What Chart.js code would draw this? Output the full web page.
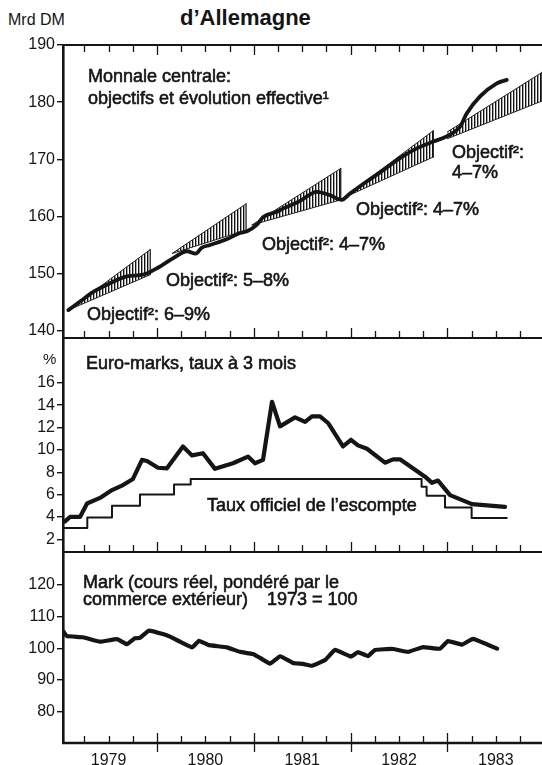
<!DOCTYPE html>
<html><head><meta charset="utf-8">
<script src="https://cdn.jsdelivr.net/npm/chart.js@4.4.0/dist/chart.umd.min.js"></script>
<style>
html,body{margin:0;padding:0;background:#fff;width:542px;height:765px;overflow:hidden;}
#wrap{position:relative;width:542px;height:765px;}
canvas{position:absolute;left:0;}
.t{position:absolute;font-family:"Liberation Sans",Arial,sans-serif;color:#151515;white-space:nowrap;line-height:1;}
.a{font-size:18px;-webkit-text-stroke:0.6px #151515;}
</style></head>
<body><div id="wrap">
<canvas id="c1" width="542" height="320" style="top:30px"></canvas>
<canvas id="c2" width="542" height="238" style="top:326px"></canvas>
<canvas id="c3" width="542" height="225" style="top:540px"></canvas>
<div class="t" style="left:180px;top:7px;font-size:22px;font-weight:bold">d’Allemagne</div>
<div class="t" style="left:8px;top:12px;font-size:16px">Mrd DM</div>
<div class="t a" style="left:88px;top:67px">Monnale centrale:</div>
<div class="t a" style="left:88px;top:89px">objectifs et évolution effective¹</div>
<div class="t a" style="left:87px;top:305px">Objectif²: 6–9%</div>
<div class="t a" style="left:166px;top:271px">Objectif²: 5–8%</div>
<div class="t a" style="left:262px;top:235px">Objectif²: 4–7%</div>
<div class="t a" style="left:356px;top:200px">Objectif²: 4–7%</div>
<div class="t a" style="left:452px;top:143px">Objectif²:</div>
<div class="t a" style="left:452px;top:163px">4–7%</div>
<div class="t" style="left:43px;top:351px;font-size:15px">%</div>
<div class="t a" style="left:86px;top:354px">Euro-marks, taux à 3 mois</div>
<div class="t a" style="left:207px;top:496px">Taux officiel de l’escompte</div>
<div class="t a" style="left:83px;top:573px">Mark (cours réel, pondéré par le</div>
<div class="t a" style="left:83px;top:590px">commerce extérieur)</div>
<div class="t a" style="left:267px;top:590px">1973 = 100</div>
</div>
<script>
// ---------- DATA ----------
const years = ['1979', '1980', '1981', '1982', '1983'];
const xMin = 1979.029, xMax = 1983.977;

// Panel 1: central bank money (Mrd DM)
const moneyT = [1979.084, 1979.205, 1979.342, 1979.514, 1979.687, 1979.858, 1979.997, 1980.168, 1980.310, 1980.400, 1980.460, 1980.548, 1980.720, 1980.857, 1980.930, 1981.030, 1981.098, 1981.237, 1981.305, 1981.477, 1981.650, 1981.787, 1981.908, 1981.994, 1982.166, 1982.338, 1982.510, 1982.683, 1982.854, 1982.993, 1983.130, 1983.199, 1983.337, 1983.510, 1983.613];
const moneyV = [143.6, 145.1, 146.8, 148.3, 149.5, 149.8, 150.9, 152.7, 153.9, 153.5, 154.5, 155.0, 156.0, 157.1, 157.4, 158.5, 159.9, 160.8, 161.4, 162.7, 164.3, 163.7, 162.9, 164.0, 166.1, 168.1, 170.2, 171.9, 173.1, 174.0, 175.7, 178.0, 181.0, 183.3, 183.9];
const yTicks1 = [140, 150, 160, 170, 180, 190];

// Target corridors
const corrLabels = ['6–9%', '5–8%', '4–7%', '4–7%', '4–7%'];
const corrT0 = [1979.084, 1980.155, 1980.980, 1981.920, 1983.000];
const corrT1 = [1979.930, 1980.920, 1981.898, 1982.854, 1983.977];
const corrLow0 = [143.6, 153.5, 158.5, 163.2, 173.6];
const corrHigh0 = [143.6, 153.5, 158.5, 163.2, 174.8];
const corrLow1 = [149.8, 157.6, 162.9, 170.4, 180.2];
const corrHigh1 = [154.2, 162.2, 168.4, 175.0, 185.2];

// Panel 2: Euro-marks 3 months rate and discount rate (%)
const euroT = [1979.050, 1979.101, 1979.205, 1979.277, 1979.411, 1979.535, 1979.649, 1979.752, 1979.845, 1979.897, 1980.010, 1980.103, 1980.268, 1980.362, 1980.475, 1980.599, 1980.785, 1980.940, 1981.012, 1981.095, 1981.188, 1981.271, 1981.426, 1981.529, 1981.601, 1981.684, 1981.767, 1981.921, 1982.004, 1982.076, 1982.169, 1982.355, 1982.438, 1982.510, 1982.769, 1982.841, 1982.903, 1983.027, 1983.254, 1983.595];
const euroV = [3.6, 4.0, 4.0, 5.2, 5.7, 6.4, 6.85, 7.4, 9.1, 9.0, 8.4, 8.35, 10.3, 9.5, 9.7, 8.3, 8.8, 9.4, 8.8, 9.1, 14.3, 12.1, 12.9, 12.5, 13.0, 13.0, 12.4, 10.3, 10.9, 10.4, 10.1, 8.85, 9.15, 9.15, 7.6, 7.05, 7.25, 5.95, 5.15, 4.9];
const discT = [1979.029, 1979.280, 1979.535, 1979.824, 1980.176, 1980.348, 1982.733, 1982.785, 1982.975, 1983.250, 1983.613];
const discV = [3.0, 3.95, 5.0, 6.0, 6.9, 7.4, 6.7, 5.9, 4.85, 3.9, 3.9];
const yTicks2 = [2, 4, 6, 8, 10, 12, 14, 16];

// Panel 3: Mark real effective rate (1973 = 100)
const markT = [1979.032, 1979.067, 1979.236, 1979.411, 1979.587, 1979.690, 1979.773, 1979.824, 1979.917, 1980.062, 1980.134, 1980.362, 1980.434, 1980.527, 1980.723, 1980.857, 1980.992, 1981.064, 1981.167, 1981.271, 1981.405, 1981.508, 1981.601, 1981.736, 1981.839, 1982.004, 1982.076, 1982.180, 1982.252, 1982.438, 1982.593, 1982.748, 1982.924, 1983.006, 1983.151, 1983.264, 1983.513];
const markV = [105.3, 103.9, 103.5, 102.1, 102.9, 101.3, 103.2, 103.3, 105.6, 104.5, 103.7, 100.3, 102.4, 101.1, 100.3, 98.9, 98.2, 97.0, 95.2, 97.5, 95.4, 95.1, 94.5, 96.3, 99.5, 97.4, 98.8, 97.6, 99.5, 99.8, 98.9, 100.4, 99.9, 102.3, 101.2, 103.0, 99.9];
const yTicks3 = [80, 90, 100, 110, 120];

// ---------- CHARTS ----------
const INK = '#151515';
Chart.defaults.font.family = '"Liberation Sans", Arial, sans-serif';
Chart.defaults.font.size = 16;
Chart.defaults.color = INK;

const pts = (T, V) => T.map((t, i) => ({x: t, y: V[i]}));

const deco = {
  id: 'deco',
  afterDraw(chart, args, o) {
    const {ctx, chartArea: a} = chart;
    const x = chart.scales.x;
    const marks = [];
    years.forEach(y => [0, 0.25, 0.5, 0.75].forEach(q => marks.push({v: +y + q, big: q === 0})));
    marks.push({v: +years[years.length - 1] + 1, big: true});
    ctx.save();
    ctx.strokeStyle = INK;
    function hline(yp, w) {
      ctx.lineWidth = w;
      ctx.beginPath(); ctx.moveTo(a.left - 1, yp); ctx.lineTo(a.right, yp); ctx.stroke();
    }
    function row(yp, dir, down) {
      ctx.lineWidth = 1.3;
      marks.forEach(m => {
        const px = Math.round(x.getPixelForValue(m.v)) + 0.5;
        if (px <= a.left + 2 || px > a.right) return;
        const L = m.big ? 10 : 7;
        ctx.beginPath();
        ctx.moveTo(px, yp + (m.big && down ? down : 0));
        ctx.lineTo(px, yp + dir * L);
        ctx.stroke();
      });
    }
    if (o.top) { hline(a.top, 2); row(a.top, 1, 0); }
    hline(a.bottom, o.bw || 2);
    row(a.bottom, -1, o.down || 0);
    ctx.restore();
  }
};

function yAxis(min, max, ticks) {
  return {
    type: 'linear', position: 'left', min: min, max: max,
    afterFit: s => { s.width = 63; },
    afterBuildTicks: s => { s.ticks = ticks.map(v => ({value: v})); },
    ticks: {padding: 2, color: INK, font: {size: 16}},
    grid: {drawOnChartArea: false, drawTicks: true, tickLength: 6, color: INK, lineWidth: 1.4},
    border: {display: true, color: INK, width: 2.6}
  };
}
function xAxis(show) {
  return {
    type: 'linear', min: xMin, max: xMax, display: show,
    afterFit: s => { s.height = show ? 22 : 0; },
    afterBuildTicks: s => { s.ticks = years.map(y => ({value: +y + 0.5})); },
    ticks: {padding: 8, color: INK, font: {size: 16}, maxRotation: 0, callback: v => String(Math.floor(v))},
    grid: {display: false, drawTicks: false},
    border: {display: false}
  };
}
function baseOpts(pad, yax, showX, decoOpts) {
  return {
    responsive: false, animation: false, events: [],
    layout: {padding: pad},
    plugins: {legend: {display: false}, tooltip: {enabled: false}, deco: decoOpts},
    scales: {x: xAxis(showX), y: yax},
    elements: {point: {radius: 0}, line: {borderJoinStyle: 'round', borderCapStyle: 'round'}}
  };
}

// hatch pattern
const ctx1 = document.getElementById('c1').getContext('2d');
const pc = document.createElement('canvas');
pc.width = 3; pc.height = 3;
const pg = pc.getContext('2d');
pg.fillStyle = '#111'; pg.fillRect(0, 0, 1, 3);
pg.fillStyle = 'rgba(0,0,0,0.35)'; pg.fillRect(1, 0, 1, 3);
const hatch = ctx1.createPattern(pc, 'repeat');

const ds1 = [{
  data: pts(moneyT, moneyV), borderColor: INK, borderWidth: 3.8,
  cubicInterpolationMode: 'monotone', fill: false
}];
corrT0.forEach((t0, i) => {
  const li = ds1.length;
  ds1.push({label: corrLabels[i], data: [{x: t0, y: corrLow0[i]}, {x: corrT1[i], y: corrLow1[i]}], borderColor: '#222', borderWidth: 1, fill: false});
  ds1.push({label: corrLabels[i], data: [{x: t0, y: corrHigh0[i]}, {x: corrT1[i], y: corrHigh1[i]}], borderColor: '#222', borderWidth: 1, fill: li, backgroundColor: hatch});
  ds1.push({label: corrLabels[i], data: [{x: corrT1[i], y: corrLow1[i]}, {x: corrT1[i], y: corrHigh1[i]}], borderColor: '#222', borderWidth: 1.3, fill: false});
});

new Chart(ctx1, {
  type: 'line', data: {datasets: ds1}, plugins: [deco],
  options: baseOpts({top: 15, bottom: 12, left: 0, right: 0}, yAxis(138.72, 190, yTicks1), false, {top: true})
});

new Chart(document.getElementById('c2'), {
  type: 'line', plugins: [deco],
  data: {datasets: [
    {data: pts(euroT, euroV), borderColor: INK, borderWidth: 4.2, tension: 0, fill: false},
    {data: pts(discT, discV), borderColor: INK, borderWidth: 2, stepped: 'before', fill: false}
  ]},
  options: baseOpts({top: 12, bottom: 12, left: 0, right: 0}, yAxis(0.865, 20, yTicks2), false, {})
});

new Chart(document.getElementById('c3'), {
  type: 'line', plugins: [deco],
  data: {datasets: [
    {data: pts(markT, markV), borderColor: INK, borderWidth: 4.2, tension: 0.1, fill: false}
  ]},
  options: baseOpts({top: 12, bottom: 0, left: 0, right: 0}, yAxis(70.12, 130.42, yTicks3), true, {bw: 2.6, down: 9})
});
</script>
</body></html>
